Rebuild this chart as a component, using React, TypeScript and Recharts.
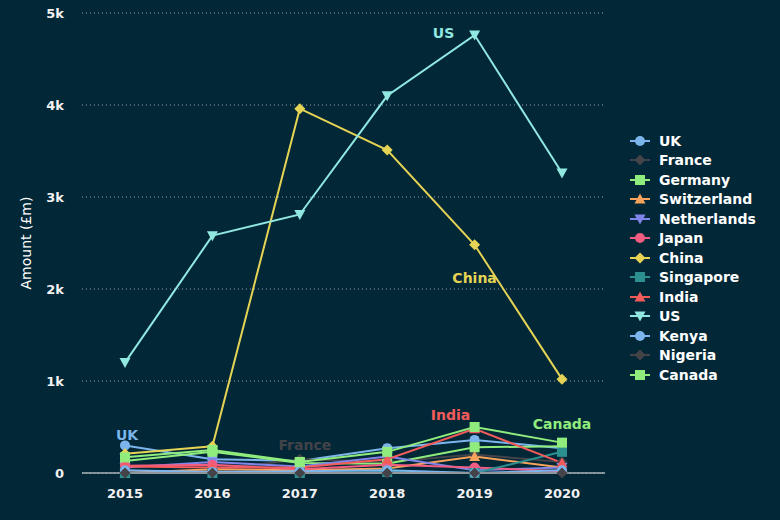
import { LineChart, Line, XAxis, YAxis, CartesianGrid, LabelList } from 'recharts';

const years = ['2015', '2016', '2017', '2018', '2019', '2020'];
const yTicks = [0, 1000, 2000, 3000, 4000, 5000];

// amounts in £m
const uk = [300, 150, 130, 270, 360, 270];
const france = [10, 30, 150, 120, 200, 120];
const germany = [130, 230, 110, 100, 280, 290];
const switzerland = [0, 40, 30, 50, 180, 60];
const netherlands = [60, 120, 70, 180, 30, 60];
const japan = [80, 90, 40, 90, 60, 20];
const china = [210, 290, 3960, 3510, 2480, 1020];
const singapore = [0, 0, 0, 10, 0, 230];
const india = [70, 60, 60, 150, 480, 110];
const us = [1200, 2580, 2810, 4100, 4760, 3260];
const kenya = [30, 10, 20, 30, 0, 30];
const nigeria = [0, 0, 0, 0, 0, 0];
const canada = [170, 250, 120, 230, 500, 330];

type Shape = 'circle' | 'diamond' | 'square' | 'triangle' | 'triangle-down';

interface SeriesDef {
  name: string;
  values: number[];
  color: string;
  shape: Shape;
  label?: { index: number; dx: number; dy: number };
}

const series: SeriesDef[] = [
  { name: 'UK', values: uk, color: '#7cb5ec', shape: 'circle', label: { index: 0, dx: 2, dy: -5 } },
  { name: 'France', values: france, color: '#434348', shape: 'diamond', label: { index: 2, dx: 5, dy: -9 } },
  { name: 'Germany', values: germany, color: '#90ed7d', shape: 'square' },
  { name: 'Switzerland', values: switzerland, color: '#f7a35c', shape: 'triangle' },
  { name: 'Netherlands', values: netherlands, color: '#8085e9', shape: 'triangle-down' },
  { name: 'Japan', values: japan, color: '#f15c80', shape: 'circle' },
  { name: 'China', values: china, color: '#e4d354', shape: 'diamond', label: { index: 4, dx: 0, dy: 38 } },
  { name: 'Singapore', values: singapore, color: '#2b908f', shape: 'square' },
  { name: 'India', values: india, color: '#f45b5b', shape: 'triangle', label: { index: 4, dx: -24, dy: -9 } },
  { name: 'US', values: us, color: '#91e8e1', shape: 'triangle-down', label: { index: 4, dx: -31, dy: 3 } },
  { name: 'Kenya', values: kenya, color: '#7cb5ec', shape: 'circle' },
  { name: 'Nigeria', values: nigeria, color: '#434348', shape: 'diamond' },
  { name: 'Canada', values: canada, color: '#90ed7d', shape: 'square', label: { index: 5, dx: 0, dy: -14 } },
];

const data = years.map((year, i) => {
  const row: Record<string, string | number> = { year };
  series.forEach((s) => {
    row[s.name] = s.values[i];
  });
  return row;
});

const FONT = '"DejaVu Sans", sans-serif';
const BG = '#022737';

const Marker = ({ cx, cy, shape, color }: { cx: number; cy: number; shape: Shape; color: string }) => {
  if (cx == null || cy == null) return null;
  switch (shape) {
    case 'circle':
      return <circle cx={cx} cy={cy} r={5} fill={color} />;
    case 'square':
      return <rect x={cx - 5} y={cy - 5} width={10} height={10} fill={color} />;
    case 'diamond':
      return <path d={`M${cx},${cy - 5.5}L${cx + 5.5},${cy}L${cx},${cy + 5.5}L${cx - 5.5},${cy}Z`} fill={color} />;
    case 'triangle':
      return <path d={`M${cx},${cy - 5.5}L${cx + 5.5},${cy + 4.5}L${cx - 5.5},${cy + 4.5}Z`} fill={color} />;
    case 'triangle-down':
      return <path d={`M${cx - 5.5},${cy - 4.5}L${cx + 5.5},${cy - 4.5}L${cx},${cy + 5.5}Z`} fill={color} />;
  }
  return null;
};

const SeriesLegend = () => (
  <div style={{ position: 'absolute', left: 628, top: 131, fontFamily: FONT }}>
    {series.map((s) => (
      <div key={s.name} style={{ display: 'flex', alignItems: 'center', height: 19.5 }}>
        <svg width={24} height={14} style={{ marginRight: 7 }}>
          <line x1={2} y1={7} x2={22} y2={7} stroke={s.color} strokeWidth={2} />
          <Marker cx={12} cy={7} shape={s.shape} color={s.color} />
        </svg>
        <span style={{ color: '#ffffff', fontSize: 14, fontWeight: 'bold' }}>{s.name}</span>
      </div>
    ))}
  </div>
);

const makeLabel = (s: SeriesDef) => (props: any) => {
  if (!s.label || props.index !== s.label.index) return null;
  return (
    <text
      x={Number(props.x) + s.label.dx}
      y={Number(props.y) + s.label.dy}
      textAnchor="middle"
      fill={s.color}
      fontSize={14}
      fontWeight="bold"
      fontFamily={FONT}
    >
      {s.name}
    </text>
  );
};

const App = () => {
  return (
    <div style={{ position: 'fixed', left: 0, top: 0, width: 780, height: 520, background: BG }}>
      <LineChart width={780} height={520} data={data} margin={{ top: 13, right: 175, left: 0, bottom: 17 }}>
        <CartesianGrid vertical={false} stroke="#9aa7ae" strokeDasharray="1 3" />
        <XAxis
          dataKey="year"
          padding={{ left: 43, right: 43 }}
          height={30}
          axisLine={{ stroke: '#a9b3ba', strokeWidth: 1.5 }}
          tickLine={false}
          tick={{ fill: '#f2f2f2', fontSize: 13, fontWeight: 'bold', fontFamily: FONT }}
          tickMargin={10}
        />
        <YAxis
          width={82}
          domain={[0, 5000]}
          ticks={yTicks}
          axisLine={false}
          tickLine={false}
          tickMargin={12}
          tickFormatter={(v: number) => (v === 0 ? '0' : `${v / 1000}k`)}
          tick={{ fill: '#f2f2f2', fontSize: 13, fontWeight: 'bold', fontFamily: FONT }}
          label={{
            value: 'Amount (£m)',
            angle: -90,
            position: 'insideLeft',
            dx: 21,
            style: { fill: '#ffffff', fontSize: 14, fontFamily: FONT, textAnchor: 'middle' },
          }}
        />
        {series.map((s) => (
          <Line
            key={s.name}
            dataKey={s.name}
            stroke={s.color}
            strokeWidth={2}
            isAnimationActive={false}
            dot={(p: any) => <Marker key={`${s.name}-${p.index}`} cx={p.cx} cy={p.cy} shape={s.shape} color={s.color} />}
            activeDot={false}
          >
            {s.label && <LabelList dataKey={s.name} content={makeLabel(s)} />}
          </Line>
        ))}
      </LineChart>
      <SeriesLegend />
    </div>
  );
};

export default App;
